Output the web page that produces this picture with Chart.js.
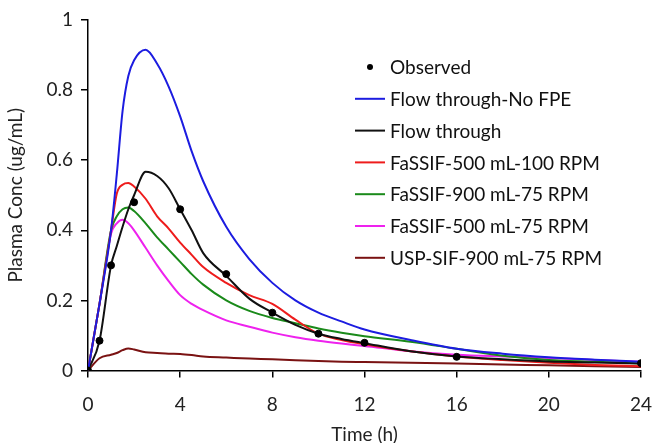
<!DOCTYPE html>
<html>
<head>
<meta charset="utf-8">
<script src="https://cdn.jsdelivr.net/npm/chart.js@4"></script>
<style>
  html, body { margin: 0; padding: 0; background: #fff; }
  #wrap { width: 653px; height: 443px; }
</style>
</head>
<body>
<div id="wrap"><canvas id="pkCanvas"></canvas></div>
<script>
// temps (h) commun aux courbes simulees
const temps = [0, 0.5, 1, 1.25, 1.5, 1.75, 2, 2.5, 3, 3.5, 4, 4.5, 5, 6, 7, 8, 9, 10, 11, 12, 14, 16, 18, 20, 22, 24];

// valeurs (ug/mL)
const flowNoFPE = [0, 0.19, 0.40, 0.56, 0.74, 0.84, 0.885, 0.915, 0.875, 0.81, 0.725, 0.625, 0.54, 0.41, 0.318, 0.25, 0.2, 0.165, 0.14, 0.117, 0.087, 0.062, 0.048, 0.038, 0.031, 0.025];
const flowThrough = [0, 0.085, 0.3, 0.355, 0.41, 0.46, 0.5, 0.567, 0.555, 0.52, 0.46, 0.40, 0.335, 0.27, 0.205, 0.165, 0.13, 0.105, 0.09, 0.078, 0.055, 0.04, 0.032, 0.026, 0.023, 0.02];
const fassif500_100 = [0, 0.19, 0.40, 0.505, 0.53, 0.535, 0.525, 0.49, 0.44, 0.405, 0.365, 0.33, 0.295, 0.25, 0.215, 0.19, 0.145, 0.105, 0.087, 0.075, 0.055, 0.04, 0.03, 0.022, 0.016, 0.012];
const fassif900_75 = [0, 0.19, 0.40, 0.44, 0.46, 0.465, 0.455, 0.42, 0.38, 0.345, 0.31, 0.275, 0.245, 0.2, 0.17, 0.15, 0.135, 0.12, 0.108, 0.098, 0.082, 0.062, 0.042, 0.03, 0.025, 0.02];
const fassif500_75 = [0, 0.19, 0.39, 0.42, 0.43, 0.42, 0.40, 0.35, 0.3, 0.255, 0.215, 0.19, 0.172, 0.143, 0.125, 0.108, 0.095, 0.085, 0.077, 0.07, 0.055, 0.045, 0.04, 0.036, 0.03, 0.025];
const uspSif900_75 = [0, 0.035, 0.045, 0.05, 0.058, 0.063, 0.06, 0.052, 0.05, 0.048, 0.047, 0.044, 0.04, 0.037, 0.034, 0.032, 0.029, 0.027, 0.025, 0.024, 0.022, 0.02, 0.017, 0.015, 0.012, 0.01];

// points observes
const tempsObs = [0, 0.5, 1, 2, 4, 6, 8, 10, 12, 16, 24];
const concObs = [0, 0.085, 0.30, 0.48, 0.46, 0.275, 0.165, 0.105, 0.079, 0.039, 0.021];

const xTicks = [0, 4, 8, 12, 16, 20, 24];
const yTicks = [0, 0.2, 0.4, 0.6, 0.8, 1];

const police = 'Lato, "DejaVu Sans", sans-serif';

function toPoints(xs, ys) {
    return xs.map((x, i) => ({ x: x, y: ys[i] }));
}

function courbe(label, ys, couleur) {
    return {
        label: label,
        data: toPoints(temps, ys),
        showLine: true,
        borderColor: couleur,
        backgroundColor: couleur,
        borderWidth: 2,
        pointRadius: 0,
        cubicInterpolationMode: 'monotone',
        fill: false
    };
}

const datasets = [
    {
        label: 'Observed',
        data: toPoints(tempsObs, concObs),
        showLine: false,
        pointRadius: 3.5,
        pointBackgroundColor: '#000',
        pointBorderColor: '#000',
        backgroundColor: '#000',
        borderColor: '#000'
    },
    courbe('Flow through-No FPE', flowNoFPE, '#1c1ce0'),
    courbe('Flow through', flowThrough, '#111111'),
    courbe('FaSSIF-500 mL-100 RPM', fassif500_100, '#ee1c1c'),
    courbe('FaSSIF-900 mL-75 RPM', fassif900_75, '#1a8a1a'),
    courbe('FaSSIF-500 mL-75 RPM', fassif500_75, '#ee22ee'),
    courbe('USP-SIF-900 mL-75 RPM', uspSif900_75, '#7a1212')
];

// legende dessinee a la main dans la zone du graphe
const legendePlugin = {
    id: 'legendeMain',
    afterDraw(chart) {
        const ctx = chart.ctx;
        ctx.save();
        ctx.font = '19px ' + police;
        ctx.textBaseline = 'middle';
        chart.data.datasets.forEach((ds, i) => {
            const y = 67 + i * 31.8;
            if (i === 0) {
                ctx.beginPath();
                ctx.arc(370, y, 3, 0, Math.PI * 2);
                ctx.fillStyle = '#000';
                ctx.fill();
            } else {
                ctx.beginPath();
                ctx.moveTo(355, y);
                ctx.lineTo(385, y);
                ctx.strokeStyle = ds.borderColor;
                ctx.lineWidth = 2;
                ctx.stroke();
            }
            ctx.fillStyle = '#111';
            ctx.fillText(ds.label, 390, y + 1);
        });
        ctx.restore();
    }
};

const ctx = document.getElementById('pkCanvas').getContext('2d');
new Chart(ctx, {
    type: 'scatter',
    data: { datasets: datasets },
    plugins: [legendePlugin],
    options: {
        responsive: true,
        maintainAspectRatio: false,
        animation: false,
        layout: { padding: { top: 20, right: 0, left: 0, bottom: 0 } },
        plugins: {
            legend: { display: false },
            tooltip: { enabled: false }
        },
        scales: {
            x: {
                type: 'linear',
                min: 0,
                max: 24,
                afterBuildTicks: (s) => { s.ticks = xTicks.map(v => ({ value: v })); },
                afterFit: (s) => { s.height = 72.5; s.paddingLeft = 0; s.paddingRight = 12; },
                grid: { display: true, drawOnChartArea: false, tickLength: 7, color: '#000', lineWidth: 1.5 },
                border: { display: true, color: '#000', width: 1.5 },
                ticks: { color: '#222', font: { family: police, size: 19 }, padding: 16, maxRotation: 0 },
                title: { display: true, text: 'Time (h)', color: '#222', font: { family: police, size: 19 }, padding: { top: 6, bottom: -3 } }
            },
            y: {
                min: 0,
                max: 1,
                afterBuildTicks: (s) => { s.ticks = yTicks.map(v => ({ value: v })); },
                afterFit: (s) => { s.width = 88; },
                grid: { display: true, drawOnChartArea: false, tickLength: 7, color: '#000', lineWidth: 1.5 },
                border: { display: true, color: '#000', width: 1.5 },
                ticks: { color: '#222', font: { family: police, size: 19 }, padding: 8, callback: (v) => String(v) },
                title: { display: true, text: 'Plasma Conc (ug/mL)', color: '#222', font: { family: police, size: 19 }, padding: { bottom: 4 } }
            }
        }
    }
});
</script>
</body>
</html>
